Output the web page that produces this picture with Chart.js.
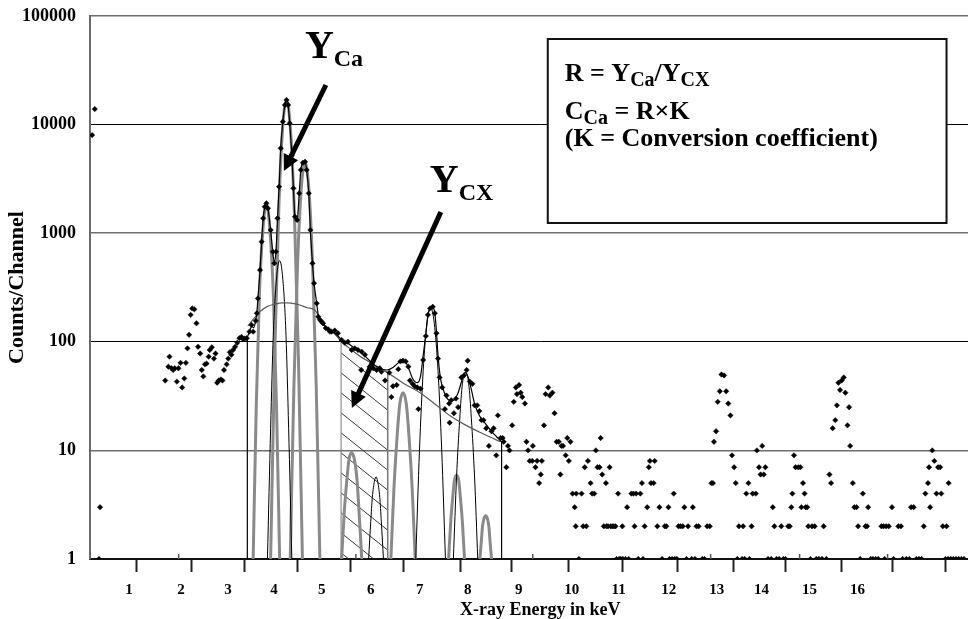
<!DOCTYPE html>
<html><head><meta charset="utf-8">
<script src="https://cdn.jsdelivr.net/npm/chart.js@4.4.1/dist/chart.umd.min.js"></script>
<style>html,body{margin:0;padding:0;overflow:hidden;background:#fff;width:968px;height:619px}canvas{display:block}</style>
</head><body>
<canvas id="c" width="995" height="619"></canvas>
<script>
// ---------- measured spectrum (energy in keV, counts per channel) ----------
const dataEnergy = [0.04,0.09,0.17,0.19,
1.42,1.48,1.50,1.54,1.57,1.60,1.64,1.67,1.71,1.74,1.78,1.81,1.84,1.87,1.90,1.93,1.97,2.01,2.04,2.08,2.11,2.14,2.17,2.20,2.24,2.26,2.30,2.34,2.37,2.40,2.43,2.47,2.50,2.53,2.58,2.61,2.64,2.67,2.70,2.74,2.78,2.82,2.86,2.89,2.92,2.96,
3.01,3.05,3.08,3.13,3.15,3.17,3.21,3.24,3.27,3.30,3.33,3.36,3.41,3.45,3.48,3.51,3.54,3.57,3.60,3.64,3.68,3.71,3.74,3.77,3.81,3.84,3.87,3.91,3.95,3.98,4.02,4.06,4.09,4.13,4.16,4.20,4.23,4.28,4.31,4.34,4.37,4.40,4.45,4.50,4.53,4.56,4.62,4.68,4.75,4.81,4.87,4.94,5.00,5.06,5.13,5.19,5.12,5.28,5.35,5.41,5.47,5.50,5.57,5.65,5.69,5.72,5.79,5.82,5.86,5.91,5.96,
6.01,6.04,6.09,6.13,6.18,6.20,6.24,6.29,6.34,6.38,6.42,6.47,6.51,6.54,6.57,6.60,6.65,6.70,6.73,6.78,6.79,6.82,6.87,6.91,6.95,7.01,7.06,7.11,7.13,7.17,7.22,7.26,7.31,7.35,7.39,7.43,7.48,7.53,7.58,7.62,7.67,7.70,7.75,7.79,7.81,7.86,7.89,7.92,7.97,
8.00,8.04,8.06,8.10,8.13,8.16,8.21,8.24,8.27,8.30,8.35,8.36,8.41,8.44,8.48,8.51,8.53,8.57,8.60,8.65,8.68,8.73,8.77,8.81,8.85,8.88,8.90,8.93,8.98,9.01,9.04,9.07,9.11,9.15,9.17,9.18,9.23,9.28,9.31,9.34,9.37,9.40,9.45,9.48,9.52,9.55,9.58,9.62,9.64,9.67,9.70,9.74,9.75,9.78,9.81,9.83,9.86,9.89,9.92,9.94,9.97,9.99,
10.02,10.05,10.06,10.11,10.14,10.17,10.22,10.26,10.28,10.31,10.35,10.39,10.42,10.44,10.47,10.52,10.55,10.57,10.59,10.64,10.66,10.71,10.75,10.80,10.85,10.88,10.92,10.94,10.99,
11.02,11.04,11.08,11.11,11.15,11.19,11.22,11.26,11.29,11.36,11.38,11.42,11.45,11.49,11.56,11.60,11.65,11.70,11.73,11.76,11.78,11.82,11.85,11.89,11.92,11.97,
12.01,12.05,12.09,12.12,12.16,12.19,12.22,12.25,12.31,12.33,12.36,12.39,12.43,12.45,12.49,12.51,12.57,12.59,12.63,12.66,12.69,12.72,12.75,12.80,12.86,12.89,12.92,12.96,
13.01,13.05,13.09,13.13,13.18,13.21,13.24,13.26,13.29,13.32,13.37,13.41,13.43,13.46,13.49,13.51,13.54,13.56,13.60,13.63,13.68,13.71,13.76,13.82,13.85,13.90,13.96,13.99,
14.02,14.07,14.10,14.13,14.16,14.19,14.23,14.26,14.30,14.33,14.35,14.40,14.43,14.47,14.50,14.54,14.59,14.64,14.67,14.69,14.74,14.78,14.83,14.88,14.94,14.98,
15.00,15.03,15.08,15.14,15.17,15.26,15.31,15.34,15.41,15.47,15.50,15.55,15.60,15.65,15.70,15.74,15.77,15.82,15.84,15.86,15.90,15.94,15.98,
16.01,16.05,16.07,16.10,16.15,16.17,16.20,16.21,16.25,16.30,16.35,16.40,16.45,16.50];
const dataCounts = [8000,13900,1,3,
44,59,73,57,55,57,43,57,64,38,46,64,87,116,177,203,199,148,90,78,55,48,62,63,73,84,89,70,78,42,44,45,44,55,62,70,80,76,84,90,98,108,111,106,107,108,
124,143,124,156,183,251,458,835,1371,1754,1885,1694,1071,676,528,676,1371,2680,6050,10640,15170,16860,15170,10280,5250,2590,1420,1325,2330,3820,4460,4550,3820,2330,1071,528,346,226,170,160,153,148,134,130,124,124,127,120,104,98,100,84,87,84,81,76,55,59,57,55,57,53,44,52,31,39,40,56,66,67,66,
59,44,41,39,38,24,37,68,113,177,203,210,183,120,70,47,38,24,32,27,18,29,22,30,25,47,49,55,67,43,41,26,26,23,19,19,16,11,15,16,9,21,13,13,12,7,11,10,17,
28,38,33,40,34,31,27,12,10,8,8,11,7,8,5,6,8,17,33,38,32,34,22,12,12,6,11,11,9,13,8,12,4,3,2,4,1,4,2,7,2,8,5,4,4,10,7,7,13,6,2,5,2,2,7,2,2,2,2,1,4,1,
1,2,1,1,3,1,4,4,2,4,1,4,5,1,2,3,7,8,5,5,8,2,3,1,2,2,3,1,1,
4,1,1,2,2,2,3,1,2,1,3,1,2,2,1,1,2,2,5,5,12,15,28,35,50,49,
35,27,21,9,7,5,1,2,1,2,1,4,5,1,2,4,4,10,7,6,11,6,7,1,1,3,2,1,
1,2,1,1,2,2,3,4,9,7,7,7,3,5,4,3,3,2,1,2,2,1,1,1,2,1,6,5,
16,19,26,42,36,44,47,34,17,25,11,5,3,3,2,1,4,2,2,3,1,1,1,1,2,2,
1,2,2,3,1,2,2,1,1,1,3,3,1,1,1,2,4,5,7,3,10,8,4,
7,7,4,2,1,2,1,5,1,1,1,1,1,1];

// ---------- fitted curves ([keV, counts]) ----------
const fitCurve = [[2.97,110],[3.01,124],[3.05,138],[3.09,135],[3.13,160],[3.15,185],[3.17,251],[3.21,458],[3.24,835],[3.27,1371],[3.30,1754],[3.33,1885],[3.36,1694],[3.41,1071],[3.45,676],[3.48,540],[3.51,676],[3.54,1371],[3.57,2680],[3.60,6050],[3.64,10640],[3.68,15170],[3.71,16860],[3.74,15170],[3.77,10280],[3.81,5250],[3.84,2590],[3.87,1420],[3.91,1325],[3.95,2330],[3.98,3820],[4.02,4460],[4.06,4550],[4.09,3820],[4.13,2330],[4.16,1071],[4.20,528],[4.23,346],[4.28,226],[4.31,175],[4.37,153],[4.45,136],[4.53,126],[4.62,120],[4.69,112],[4.75,104],[4.87,97],[5.00,87],[5.13,79],[5.24,70],[5.35,62],[5.47,57],[5.60,55],[5.72,58],[5.82,64],[5.88,67],[5.95,66],[6.01,58],[6.09,46],[6.18,42],[6.24,48],[6.29,75],[6.34,118],[6.38,178],[6.42,203],[6.46,210],[6.51,183],[6.54,125],[6.57,75],[6.62,45],[6.70,33],[6.78,29],[6.86,29],[6.95,34],[7.02,44],[7.08,52],[7.12,50],[7.18,40],[7.26,27],[7.35,21],[7.45,18],[7.58,15],[7.70,13],[7.77,12]];
const fitLeftEdge = [[2.97,1],[2.97,110]];
const fitRightEdge = [[7.77,12],[7.77,1]];
const backgroundCurve = [[2.98,140],[3.10,165],[3.21,190],[3.35,212],[3.49,222],[3.62,228],[3.74,228],[3.85,225],[3.96,218],[4.10,206],[4.25,195],[4.35,160],[4.45,138],[4.53,127],[4.62,118],[4.75,100],[4.90,87],[5.09,74],[5.35,62],[5.62,52],[5.90,42],[6.23,34],[6.50,27],[6.79,21],[7.10,17],[7.45,14],[7.75,12]];
const cxRegion = [[4.74,1],[4.74,100],[4.90,87],[5.09,74],[5.35,62],[5.62,52],[5.62,1]];
// grey (thick) peak components
const greyPeaks = [
  [[3.08,1],[3.14,27],[3.20,283],[3.27,1170],[3.33,1860],[3.39,1170],[3.46,283],[3.52,27],[3.58,1]],
  [[3.41,1],[3.485,70],[3.56,1460],[3.635,9040],[3.71,16600],[3.785,9040],[3.86,1460],[3.935,70],[4.01,1]],
  [[3.78,1],[3.85,40],[3.92,547],[3.99,2630],[4.06,4470],[4.13,2630],[4.20,547],[4.27,40],[4.34,1]],
  [[4.75,1],[4.80,2.7],[4.85,5.4],[4.89,8.3],[4.94,9.5],[4.99,8.3],[5.04,5.4],[5.08,2.7],[5.13,1]],
  [[5.68,1],[5.74,4.7],[5.80,14],[5.85,27],[5.91,34],[5.97,27],[6.02,14],[6.08,4.7],[6.14,1]],
  [[6.77,1],[6.81,2.2],[6.85,3.8],[6.88,5.3],[6.92,5.9],[6.96,5.3],[6.99,3.8],[7.03,2.2],[7.07,1]],
  [[7.36,1],[7.39,1.5],[7.41,2.0],[7.44,2.37],[7.47,2.5],[7.50,2.37],[7.53,2.0],[7.55,1.5],[7.58,1]]
];
// black (thin) peak components
const blackPeaks = [
  [[3.35,1],[3.41,16],[3.46,115],[3.52,378],[3.58,560],[3.64,378],[3.70,115],[3.75,16],[3.81,1]],
  [[5.26,1],[5.30,2.2],[5.33,3.7],[5.37,5.2],[5.40,5.7],[5.43,5.2],[5.47,3.7],[5.50,2.2],[5.54,1]],
  [[6.15,1],[6.22,10],[6.29,54],[6.36,147],[6.43,205],[6.50,147],[6.57,54],[6.64,10],[6.71,1]],
  [[6.86,1],[6.92,5.7],[6.98,19.5],[7.03,41],[7.09,52],[7.15,41],[7.20,19.5],[7.26,5.7],[7.32,1]]
];

// ---------- axes ----------
const yTickValues = [1,10,100,1000,10000,100000];
const yTickLabels = ['1','10','100','1000','10000','100000'];
const xTickMarks = [0.887,1.925,2.925,3.925,4.925,5.925,7.0,7.962,9.038,10.057,11.094,12.151,13.132,14.189,15.151,16.151];
const xMinorTicks = [1.674,5.019,8.358,11.717,13.396,15.057];
const xLabelPos = [0.736,1.717,2.604,3.472,4.377,5.302,6.226,7.132,8.094,9.094,9.981,10.925,11.83,12.679,13.585,14.49];
const xTickLabels = ['1','2','3','4','5','6','7','8','9','10','11','12','13','14','15','16'];

// ---------- annotations (anchored in data coordinates) ----------
const arrowCa = {tail:[4.453,23150], tip:[3.660,3738]};
const arrowCx = {tail:[6.623,1568], tip:[4.943,24.6]};
const labelCa = {at:[4.057,41000], parts:[['Y',0],['Ca',1]]};
const labelCx = {at:[6.415,2395], parts:[['Y',0],['CX',1]]};
const boxCorners = {left:8.642, right:16.17, top:61400, bottom:1242};
const boxLines = [
  [['R = Y',0],['Ca',1],['/Y',0],['CX',1]],
  [['C',0],['Ca',1],[' = R\u00D7K',0]],
  [['(K = Conversion coefficient)',0]]
];

const SERIF = '"Liberation Serif", "Times New Roman", serif';
const canvas = document.getElementById('c');
const ctx = canvas.getContext('2d');

function hatchPattern(){
  const c = document.createElement('canvas'); c.width = 25; c.height = 20;
  const g = c.getContext('2d');
  g.strokeStyle = '#3a3a3a'; g.lineWidth = 1;
  g.beginPath(); g.moveTo(-2.5,-2); g.lineTo(27.5,22); g.stroke();
  return ctx.createPattern(c,'repeat');
}
const toXY = (xs, ys) => xs.map((x,i)=>({x, y: ys[i]}));
const pairs = arr => arr.map(([x,y]) => ({x, y}));

function drawRich(c, x, y, parts, mainFont, subFont, drop){
  let cx = x;
  parts.forEach(([t, sub]) => {
    c.font = sub ? subFont : mainFont;
    c.fillText(t, cx, y + (sub ? drop : 0));
    cx += c.measureText(t).width;
  });
}
function drawArrow(c, x0, y0, x1, y1){
  const dx = x1-x0, dy = y1-y0, len = Math.hypot(dx,dy), ux = dx/len, uy = dy/len;
  const hl = 16, hw = 8;
  const bx = x1 - ux*hl, by = y1 - uy*hl;
  c.strokeStyle = '#000'; c.fillStyle = '#000'; c.lineWidth = 5; c.lineCap = 'butt';
  c.beginPath(); c.moveTo(x0,y0); c.lineTo(bx+ux*3, by+uy*3); c.stroke();
  c.beginPath(); c.moveTo(x1,y1); c.lineTo(bx-uy*hw, by+ux*hw); c.lineTo(bx+uy*hw, by-ux*hw); c.closePath(); c.fill();
}

const overlay = {
  id: 'overlay',
  afterDatasetsDraw(chart){
    const c = chart.ctx, xs = chart.scales.x, ys = chart.scales.y;
    const px = v => xs.getPixelForValue(v), py = v => ys.getPixelForValue(v);
    c.save();
    c.strokeStyle = '#555'; c.lineWidth = 1.5;
    xMinorTicks.forEach(v => { c.beginPath(); c.moveTo(px(v), ys.bottom); c.lineTo(px(v), ys.bottom-5); c.stroke(); });
    drawArrow(c, px(arrowCa.tail[0]), py(arrowCa.tail[1]), px(arrowCa.tip[0]), py(arrowCa.tip[1]));
    drawArrow(c, px(arrowCx.tail[0]), py(arrowCx.tail[1]), px(arrowCx.tip[0]), py(arrowCx.tip[1]));
    c.fillStyle = '#000'; c.textBaseline = 'alphabetic'; c.textAlign = 'left';
    [labelCa, labelCx].forEach(l => drawRich(c, px(l.at[0]), py(l.at[1]), l.parts, 'bold 40px '+SERIF, 'bold 24px '+SERIF, 8));
    const bl = px(boxCorners.left), br = px(boxCorners.right), bt = py(boxCorners.top), bb = py(boxCorners.bottom);
    c.fillStyle = '#fff'; c.fillRect(bl, bt, br-bl, bb-bt);
    c.strokeStyle = '#111'; c.lineWidth = 2; c.strokeRect(bl, bt, br-bl, bb-bt);
    c.fillStyle = '#000';
    const baseOff = [42, 80, 107];
    boxLines.forEach((ln, i) => drawRich(c, bl+17, bt+baseOff[i], ln, 'bold 26px '+SERIF, 'bold 20px '+SERIF, 5));
    c.restore();
  }
};

const datasets = [];
datasets.push({data: toXY(dataEnergy, dataCounts), showLine:false, pointStyle:'rectRot', pointRadius:2.7, pointBackgroundColor:'#000', pointBorderColor:'#000', pointBorderWidth:0.5});
const lineDs = (d, color, w, extra) => Object.assign({data: pairs(d), showLine:true, pointRadius:0, borderColor:color, borderWidth:w, fill:false, cubicInterpolationMode:'monotone'}, extra||{});
datasets.push(lineDs(fitCurve, '#000', 1.2));
datasets.push(lineDs(fitLeftEdge, '#000', 1.2, {cubicInterpolationMode:'default', tension:0}));
datasets.push(lineDs(fitRightEdge, '#000', 1.2, {cubicInterpolationMode:'default', tension:0}));
datasets.push(lineDs(backgroundCurve, '#5a5a5a', 1.2));
blackPeaks.forEach(p => datasets.push(lineDs(p, '#000', 1)));
greyPeaks.forEach(p => datasets.push(lineDs(p, '#8a8a8a', 3)));
datasets.push({data: pairs(cxRegion), showLine:true, pointRadius:0, borderColor:'#777', borderWidth:1, tension:0, fill:'start', backgroundColor: hatchPattern()});

const gridCol = v => (v === 10000 || v === 100 || v === 1) ? '#000' : '#6e6e6e';

new Chart(ctx, {
  type: 'scatter',
  data: {datasets},
  options: {
    responsive:false, animation:false, devicePixelRatio:1,
    layout:{padding:{left:3, top:16, right:3, bottom:0}},
    plugins:{legend:{display:false}, tooltip:{enabled:false}},
    events: [],
    scales:{
      x:{type:'linear', position:'bottom', min:0, max:17, weight:0,
        afterBuildTicks: s => { s.ticks = xTickMarks.map(v => ({value:v})); },
        afterFit: s => { s.height = 13; s.paddingLeft = 0; s.paddingRight = 0; },
        grid:{display:true, drawOnChartArea:false, drawTicks:true, tickLength:13, tickColor:'#222', tickWidth:2},
        border:{display:true, color:'#111', width:2},
        ticks:{autoSkip:false, maxRotation:0, padding:0, callback: () => '', font:{size:2}}},
      xl:{type:'linear', position:'bottom', min:0, max:17, weight:1,
        afterBuildTicks: s => { s.ticks = xLabelPos.map(v => ({value:v})); },
        afterFit: s => { s.height = 47; s.paddingLeft = 0; s.paddingRight = 0; },
        grid:{display:false, drawTicks:false},
        border:{display:false},
        ticks:{autoSkip:false, maxRotation:0, padding:9, color:'#000', font:{family:SERIF, weight:'bold', size:15},
          callback: (v, i) => xTickLabels[i]},
        title:{display:true, text:'X-ray Energy in keV', color:'#000', font:{family:SERIF, weight:'bold', size:18, lineHeight:1}, padding:{top:0, bottom:0}}},
      y:{type:'logarithmic', min:1, max:100000,
        afterBuildTicks: s => { s.ticks = yTickValues.map(v => ({value:v})); },
        afterFit: s => { s.width = 87; s.paddingTop = 0; s.paddingBottom = 0; },
        grid:{drawTicks:false, color: c => gridCol(c.tick && c.tick.value), lineWidth: c => (c.tick && (c.tick.value === 10000 || c.tick.value === 100)) ? 1 : 1.5},
        border:{color:'#6a6a6a', width:2},
        ticks:{padding:14, color:'#000', font:{family:SERIF, weight:'bold', size:18}, callback: (v, i) => yTickLabels[i]},
        title:{display:true, text:'Counts/Channel', color:'#000', font:{family:SERIF, weight:'bold', size:22}, padding:{top:1, bottom:0}}}
    }
  },
  plugins:[overlay]
});
</script>
</body></html>
